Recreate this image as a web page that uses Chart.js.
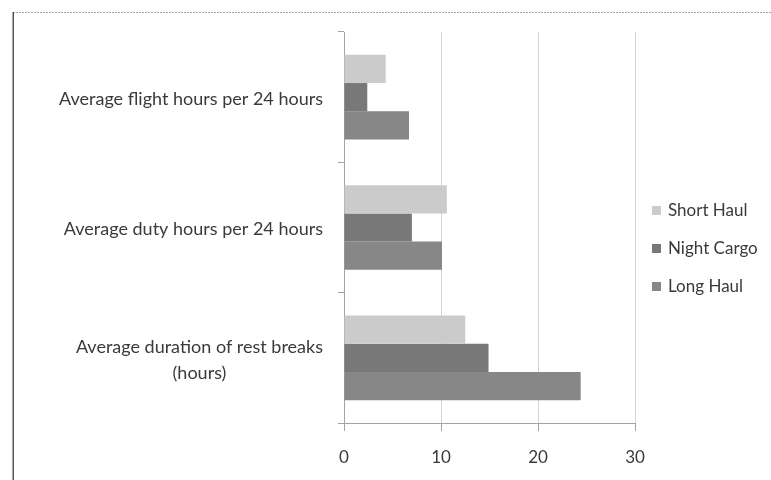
<!DOCTYPE html>
<html>
<head>
<meta charset="utf-8">
<script src="https://cdn.jsdelivr.net/npm/chart.js@4.4.1/dist/chart.umd.min.js"></script>
<style>
  html, body { margin: 0; padding: 0; background: #fff; }
  canvas { display: block; }
</style>
</head>
<body>
<canvas id="c" width="771" height="480"></canvas>
<script>
// Categories (top to bottom) and series values, in hours
const categories = [
  'Average flight hours per 24 hours',
  'Average duty hours per 24 hours',
  ['Average duration of rest breaks', '(hours)']
];
const seriesNames = ['Short Haul', 'Night Cargo', 'Long Haul'];
const shortHaul  = [4.3, 10.6, 12.5];
const nightCargo = [2.4, 7.0, 14.9];
const longHaul   = [6.7, 10.1, 24.4];
const xTickValues = [0, 10, 20, 30];

const seriesColors = ['#cbcbcb', '#787878', '#878787'];
const TEXT = '#3a3a3a';
const AXIS = '#a3a3a3';
const FONT = 'Lato, "Open Sans", sans-serif';

// Outer frame: solid left edge, light dotted top edge
const framePlugin = {
  id: 'frame',
  beforeDraw(chart) {
    const ctx = chart.ctx;
    ctx.save();
    ctx.fillStyle = '#ffffff';
    ctx.fillRect(0, 0, chart.width, chart.height);
    ctx.strokeStyle = '#a0a0a0';
    ctx.lineWidth = 1;
    ctx.setLineDash([2, 1]);
    ctx.beginPath();
    ctx.moveTo(13, 12.5);
    ctx.lineTo(chart.width, 12.5);
    ctx.stroke();
    ctx.setLineDash([]);
    ctx.strokeStyle = '#555555';
    ctx.lineWidth = 1.5;
    ctx.beginPath();
    ctx.moveTo(13.25, 12);
    ctx.lineTo(13.25, chart.height);
    ctx.stroke();
    ctx.restore();
  }
};

// Category labels: right-aligned block, wrapped lines centred within it
const categoryLabels = {
  id: 'categoryLabels',
  afterDraw(chart) {
    const y = chart.scales.y;
    const ctx = chart.ctx;
    ctx.save();
    ctx.font = '18px ' + FONT;
    ctx.fillStyle = TEXT;
    ctx.textAlign = 'center';
    ctx.textBaseline = 'middle';
    const right = y.right - 21;
    const lineHeight = 26;
    chart.data.labels.forEach((lab, i) => {
      const lines = Array.isArray(lab) ? lab : [lab];
      const w = Math.max(...lines.map(l => ctx.measureText(l).width));
      const cx = right - w / 2;
      const cy = y.getPixelForTick(i) + 2;
      lines.forEach((l, k) => {
        ctx.fillText(l, cx, cy + (k - (lines.length - 1) / 2) * lineHeight);
      });
    });
    ctx.restore();
  }
};

// Legend on the right, square markers
const sideLegend = {
  id: 'sideLegend',
  afterDraw(chart) {
    const ctx = chart.ctx;
    const area = chart.chartArea;
    const x0 = area.right + 17;
    const midY = (area.top + area.bottom) / 2 + 21;
    const spacing = 38;
    const sets = chart.data.datasets;
    ctx.save();
    ctx.font = '17px ' + FONT;
    ctx.textAlign = 'left';
    ctx.textBaseline = 'middle';
    sets.forEach((ds, i) => {
      const cy = midY + (i - (sets.length - 1) / 2) * spacing;
      ctx.fillStyle = ds.backgroundColor;
      ctx.fillRect(x0, cy - 4.5, 9, 9);
      ctx.fillStyle = TEXT;
      ctx.fillText(ds.label, x0 + 16, cy);
    });
    ctx.restore();
  }
};

new Chart(document.getElementById('c'), {
  type: 'bar',
  data: {
    labels: categories,
    datasets: [
      { label: seriesNames[0], data: shortHaul,  backgroundColor: seriesColors[0] },
      { label: seriesNames[1], data: nightCargo, backgroundColor: seriesColors[1] },
      { label: seriesNames[2], data: longHaul,   backgroundColor: seriesColors[2] }
    ]
  },
  options: {
    indexAxis: 'y',
    responsive: false,
    animation: false,
    devicePixelRatio: 1,
    layout: { padding: { top: 32, right: 136, left: 0, bottom: 0 } },
    datasets: { bar: { categoryPercentage: 0.65, barPercentage: 1.0 } },
    plugins: { legend: { display: false }, tooltip: { enabled: false } },
    scales: {
      x: {
        min: 0,
        max: 30,
        afterBuildTicks(s) { s.ticks = xTickValues.map(v => ({ value: v })); },
        afterFit(s) { s.height = 57; },
        grid: { color: '#d4d4d4', tickColor: AXIS, tickLength: 8 },
        border: { color: AXIS },
        ticks: { font: { family: FONT, size: 17 }, color: TEXT, padding: 16 }
      },
      y: {
        afterFit(s) { s.width = 344; },
        grid: { offset: true, drawOnChartArea: false, tickLength: 6, tickColor: AXIS },
        border: { color: AXIS },
        ticks: { display: false }
      }
    }
  },
  plugins: [framePlugin, categoryLabels, sideLegend]
});
</script>
</body>
</html>
